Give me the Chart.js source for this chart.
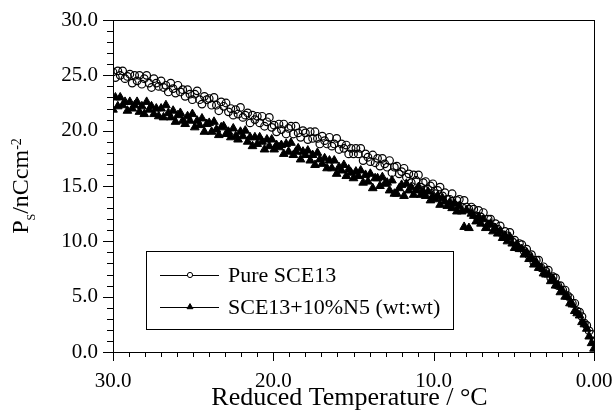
<!DOCTYPE html>
<html>
<head>
<meta charset="utf-8">
<script src="https://cdn.jsdelivr.net/npm/chart.js@4.4.1/dist/chart.umd.min.js"></script>
<style>
  html, body { margin: 0; padding: 0; background: #fff; }
  canvas { display: block; }
</style>
</head>
<body>
<canvas id="psChart" width="613" height="414"></canvas>
<script>
// Spontaneous polarisation vs reduced temperature
const temps = [
  30.00, 29.85, 29.70, 29.55, 29.40, 29.25, 29.10, 28.95, 28.80, 28.65,
  28.50, 28.35, 28.20, 28.05, 27.90, 27.75, 27.60, 27.45, 27.30, 27.15,
  27.00, 26.85, 26.70, 26.55, 26.40, 26.25, 26.10, 25.95, 25.80, 25.65,
  25.50, 25.35, 25.20, 25.05, 24.90, 24.75, 24.60, 24.45, 24.30, 24.15,
  24.00, 23.85, 23.70, 23.55, 23.40, 23.25, 23.10, 22.95, 22.80, 22.65,
  22.50, 22.35, 22.20, 22.05, 21.90, 21.75, 21.60, 21.45, 21.30, 21.15,
  21.00, 20.85, 20.70, 20.55, 20.40, 20.25, 20.10, 19.95, 19.80, 19.65,
  19.50, 19.35, 19.20, 19.05, 18.90, 18.75, 18.60, 18.45, 18.30, 18.15,
  18.00, 17.85, 17.70, 17.55, 17.40, 17.25, 17.10, 16.95, 16.80, 16.65,
  16.50, 16.35, 16.20, 16.05, 15.90, 15.75, 15.60, 15.45, 15.30, 15.15,
  15.00, 14.85, 14.70, 14.55, 14.40, 14.25, 14.10, 13.95, 13.80, 13.65,
  13.50, 13.35, 13.20, 13.05, 12.90, 12.75, 12.60, 12.45, 12.30, 12.15,
  12.00, 11.85, 11.70, 11.55, 11.40, 11.25, 11.10, 10.95, 10.80, 10.65,
  10.50, 10.35, 10.20, 10.05, 9.90, 9.75, 9.60, 9.45, 9.30, 9.15,
  9.00, 8.85, 8.70, 8.55, 8.40, 8.25, 8.10, 7.95, 7.80, 7.65,
  7.50, 7.35, 7.20, 7.05, 6.90, 6.75, 6.60, 6.45, 6.30, 6.15,
  6.00, 5.85, 5.70, 5.55, 5.40, 5.25, 5.10, 4.95, 4.80, 4.65,
  4.50, 4.35, 4.20, 4.05, 3.90, 3.75, 3.60, 3.45, 3.30, 3.15,
  3.00, 2.85, 2.70, 2.55, 2.40, 2.25, 2.10, 1.95, 1.80, 1.65,
  1.50, 1.35, 1.20, 1.05, 0.90, 0.75, 0.60, 0.45, 0.30, 0.15,
  0.00
];

const purePs = [
  25.3, 24.8, 25.4, 25.0, 25.4, 24.7, 24.9, 25.1, 24.3, 25.0,
  24.5, 25.0, 24.2, 24.7, 25.0, 24.3, 23.9, 24.7, 24.3, 24.0,
  24.5, 23.9, 24.1, 23.5, 24.3, 23.8, 23.4, 24.1, 23.5, 23.7,
  23.1, 23.7, 23.3, 22.8, 23.3, 23.6, 22.8, 22.4, 23.1, 22.8,
  22.9, 22.3, 23.0, 22.3, 21.8, 22.6, 22.2, 22.5, 21.7, 22.0,
  21.4, 21.9, 21.5, 22.1, 21.2, 21.4, 21.6, 20.7, 21.4, 21.0,
  21.3, 20.7, 21.3, 20.4, 20.8, 21.2, 20.3, 20.5, 19.9, 20.6,
  20.1, 20.6, 19.7, 20.2, 20.4, 19.7, 20.4, 19.8, 19.4, 20.0,
  19.8, 19.2, 19.9, 19.3, 19.9, 19.3, 18.8, 19.5, 19.1, 18.8,
  19.4, 18.6, 18.8, 19.3, 18.3, 18.8, 18.4, 18.7, 17.9, 18.4,
  17.9, 18.4, 17.9, 18.4, 17.3, 17.9, 17.6, 17.2, 17.8, 17.1,
  17.5, 16.8, 17.5, 17.0, 16.7, 17.3, 16.2, 16.7, 16.8, 16.1,
  16.3, 16.6, 15.8, 16.1, 15.3, 16.0, 15.5, 16.0, 14.9, 15.3,
  15.4, 14.7, 15.0, 15.2, 14.3, 14.6, 14.9, 14.1, 14.4, 13.8,
  13.8, 14.3, 13.3, 13.7, 13.8, 13.1, 13.7, 13.1, 12.9, 13.1,
  12.9, 12.3, 12.8, 12.2, 12.6, 11.6, 12.0, 12.0, 11.3, 11.6,
  11.1, 11.4, 10.6, 10.9, 10.5, 10.8, 10.0, 10.1, 9.5, 9.8,
  9.7, 9.1, 9.3, 8.7, 8.8, 8.1, 8.3, 8.3, 7.6, 7.7,
  7.3, 7.4, 6.7, 6.8, 6.7, 6.0, 6.0, 5.6, 5.6, 5.1,
  4.9, 4.4, 4.4, 3.7, 3.6, 3.2, 2.6, 2.4, 1.9, 1.6,
  1.0
];

const mixedPs = [
  21.9, 23.0, 22.2, 23.0, 22.3, 22.6, 21.8, 22.6, 22.0, 22.3,
  22.6, 21.7, 22.2, 21.5, 22.6, 21.9, 22.2, 21.5, 22.0, 21.3,
  22.0, 21.2, 22.3, 21.6, 21.2, 21.8, 20.8, 21.4, 21.6, 20.9,
  20.6, 21.3, 20.9, 21.5, 20.3, 20.9, 20.5, 21.1, 19.9, 20.6,
  20.7, 19.9, 20.8, 20.1, 19.6, 20.3, 20.4, 19.7, 19.9, 19.4,
  20.2, 19.5, 19.2, 19.9, 19.5, 20.0, 19.0, 19.4, 18.6, 19.4,
  18.8, 19.4, 19.0, 18.3, 19.2, 18.6, 19.2, 18.3, 18.7, 18.5,
  18.7, 17.9, 18.8, 18.1, 18.9, 17.8, 18.1, 18.4, 17.4, 18.1,
  17.8, 18.2, 17.3, 17.8, 16.9, 18.0, 17.4, 17.0, 17.5, 16.6,
  17.3, 16.6, 17.3, 16.1, 16.7, 16.4, 16.9, 15.9, 16.5, 16.2,
  15.7, 16.3, 15.9, 16.4, 15.3, 16.0, 15.4, 16.1, 14.8, 15.7,
  15.7, 15.0, 15.8, 15.2, 15.3, 14.6, 15.5, 14.3, 14.3, 14.8,
  15.1, 14.1, 15.2, 14.6, 14.9, 14.2, 14.6, 14.9, 14.2, 14.5,
  14.1, 14.5, 13.7, 14.1, 13.8, 14.1, 13.3, 13.9, 13.6, 13.2,
  13.5, 13.0, 13.4, 12.7, 13.2, 12.7, 11.3, 12.8, 11.2, 12.5,
  12.3, 11.8, 12.2, 11.6, 12.0, 11.2, 11.5, 11.6, 10.9, 11.2,
  10.7, 10.9, 10.3, 10.5, 10.0, 10.4, 9.8, 9.4, 9.7, 9.3,
  9.3, 8.8, 9.0, 8.4, 8.5, 7.9, 8.1, 7.6, 7.6, 7.1,
  7.0, 7.0, 6.4, 6.6, 6.0, 6.0, 5.4, 5.5, 5.0, 5.0,
  4.4, 4.3, 3.7, 3.5, 3.3, 2.7, 2.5, 2.1, 1.4, 0.8,
  0.3
];

const seriesNames = ['Pure SCE13', 'SCE13+10%N5 (wt:wt)'];

const xTickValues = [30, 20, 10, 0];
const xTickLabels = ['30.0', '20.0', '10.0', '0.00'];
const yTickValues = [0, 5, 10, 15, 20, 25, 30];
const yTickLabels = ['0.0', '5.0', '10.0', '15.0', '20.0', '25.0', '30.0'];

const SERIF = "'Liberation Serif', 'Times New Roman', serif";

// frame, major/minor ticks, axis titles and the line+marker legend
const decorations = {
  id: 'decorations',
  afterDraw(chart) {
    const { ctx, chartArea: a, scales: { x, y } } = chart;
    ctx.save();
    ctx.strokeStyle = '#000';
    ctx.lineWidth = 1;
    ctx.strokeRect(a.left + 0.5, a.top + 0.5, a.right - a.left, a.bottom - a.top);

    ctx.beginPath();
    for (let v = 0; v <= 30; v++) {
      const py = Math.round(y.getPixelForValue(v)) + 0.5;
      ctx.moveTo(a.left, py);
      ctx.lineTo(a.left - (v % 5 === 0 ? 10 : 6), py);
      const px = Math.round(x.getPixelForValue(v)) + 0.5;
      ctx.moveTo(px, a.bottom);
      ctx.lineTo(px, a.bottom + (v % 10 === 0 ? 9 : 5));
    }
    ctx.stroke();

    ctx.fillStyle = '#000';
    // x title
    ctx.font = '26px ' + SERIF;
    ctx.textAlign = 'center';
    ctx.textBaseline = 'alphabetic';
    ctx.fillText('Reduced Temperature / °C', (a.left + a.right) / 2 - 4, 405);

    // y title with sub/superscript
    const parts = [
      { t: 'P', size: 24, dy: 0 },
      { t: 'S', size: 12, dy: 7 },
      { t: '/nCcm', size: 24, dy: 0 },
      { t: '-2', size: 14, dy: -7 }
    ];
    let total = 0;
    parts.forEach(p => { ctx.font = p.size + 'px ' + SERIF; p.w = ctx.measureText(p.t).width; total += p.w; });
    ctx.translate(28, (a.top + a.bottom) / 2);
    ctx.rotate(-Math.PI / 2);
    ctx.textAlign = 'left';
    let cx = -total / 2;
    parts.forEach(p => {
      ctx.font = p.size + 'px ' + SERIF;
      ctx.fillText(p.t, cx, p.dy);
      cx += p.w;
    });
    ctx.setTransform(1, 0, 0, 1, 0, 0);

    // legend
    const box = { l: 146, t: 251, r: 453, b: 329 };
    ctx.fillStyle = '#fff';
    ctx.fillRect(box.l, box.t, box.r - box.l, box.b - box.t);
    ctx.strokeRect(box.l + 0.5, box.t + 0.5, box.r - box.l, box.b - box.t);
    const rows = [275, 307];
    const styles = [
      { pointStyle: 'circle', radius: 2.6 },
      { pointStyle: 'triangle', radius: 3.4 }
    ];
    rows.forEach((ry, i) => {
      ctx.strokeStyle = '#000';
      ctx.lineWidth = 1;
      ctx.beginPath();
      ctx.moveTo(160, ry + 0.5);
      ctx.lineTo(219, ry + 0.5);
      ctx.stroke();
      ctx.fillStyle = i === 0 ? '#fff' : '#000';
      Chart.helpers.drawPoint(ctx, { pointStyle: styles[i].pointStyle, radius: styles[i].radius, borderWidth: 1, rotation: 0 }, 190, ry);
      ctx.fillStyle = '#000';
      ctx.font = '22px ' + SERIF;
      ctx.textAlign = 'left';
      ctx.textBaseline = 'middle';
      ctx.fillText(seriesNames[i], 228, ry + 1);
    });
    ctx.restore();
  }
};

const ctx = document.getElementById('psChart').getContext('2d');
new Chart(ctx, {
  type: 'scatter',
  data: {
    datasets: [
      {
        label: seriesNames[1],
        data: temps.map((t, i) => ({ x: t, y: mixedPs[i] })),
        pointStyle: 'triangle',
        pointRadius: 5,
        backgroundColor: '#000',
        borderColor: '#000',
        borderWidth: 1,
        showLine: false,
        order: 2
      },
      {
        label: seriesNames[0],
        data: temps.map((t, i) => ({ x: t, y: purePs[i] })),
        pointStyle: 'circle',
        pointRadius: 3.8,
        backgroundColor: 'rgba(0,0,0,0)',
        borderColor: '#000',
        borderWidth: 1.2,
        showLine: false,
        order: 1
      }
    ]
  },
  options: {
    responsive: false,
    animation: false,
    events: [],
    layout: { padding: { top: 20, right: 19, left: 0, bottom: 0 } },
    plugins: { legend: { display: false }, tooltip: { enabled: false } },
    scales: {
      x: {
        type: 'linear',
        reverse: true,
        min: 0,
        max: 30,
        grid: { display: false, drawTicks: false },
        border: { display: false },
        afterBuildTicks: s => { s.ticks = xTickValues.map(v => ({ value: v })); },
        // fixed axis band; labels must not push the plot frame inward
        afterFit: s => { s.height = 62; s.paddingLeft = 0; s.paddingRight = 0; },
        ticks: {
          autoSkip: false,
          maxRotation: 0,
          padding: 17,
          color: '#000',
          font: { family: SERIF, size: 21 },
          callback: v => xTickLabels[xTickValues.indexOf(v)]
        }
      },
      y: {
        type: 'linear',
        min: 0,
        max: 30,
        grid: { display: false, drawTicks: false },
        border: { display: false },
        afterBuildTicks: s => { s.ticks = yTickValues.map(v => ({ value: v })); },
        afterFit: s => { s.width = 113; s.paddingTop = 0; s.paddingBottom = 0; },
        ticks: {
          autoSkip: false,
          padding: 15,
          color: '#000',
          font: { family: SERIF, size: 21 },
          callback: v => yTickLabels[yTickValues.indexOf(v)]
        }
      }
    }
  },
  plugins: [decorations]
});
</script>
</body>
</html>
